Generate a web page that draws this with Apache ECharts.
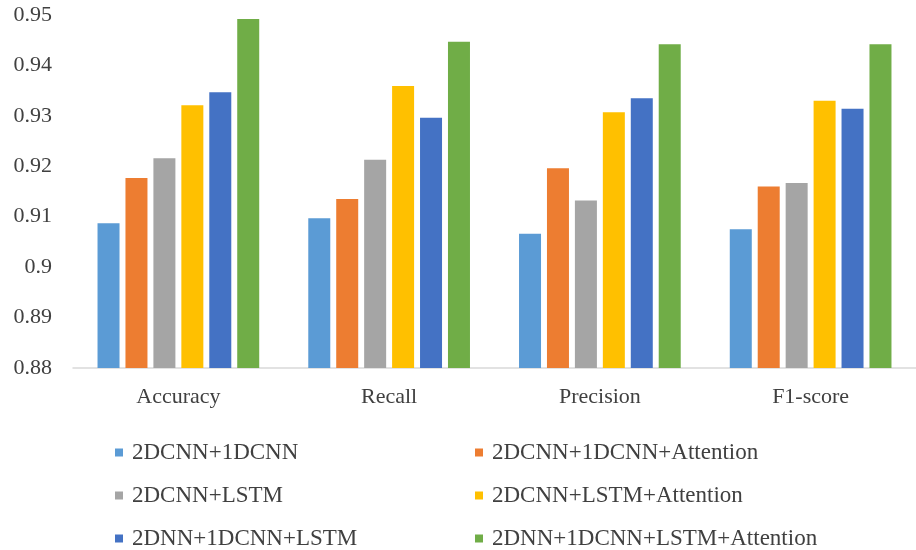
<!DOCTYPE html>
<html>
<head>
<meta charset="utf-8">
<script src="https://cdn.jsdelivr.net/npm/echarts@6/dist/echarts.min.js"></script>
<style>
  html, body { margin: 0; padding: 0; background: #fff; }
  #chart { width: 916px; height: 550px; }
</style>
</head>
<body>
<div id="chart"></div>
<script>
// Metric categories along the x axis
const categories = ['Accuracy', 'Recall', 'Precision', 'F1-score'];

// Model variants (one bar series each)
const seriesNames = [
  '2DCNN+1DCNN',
  '2DCNN+1DCNN+Attention',
  '2DCNN+LSTM',
  '2DCNN+LSTM+Attention',
  '2DNN+1DCNN+LSTM',
  '2DNN+1DCNN+LSTM+Attention'
];

// Scores per model, in category order
const cnn1d          = [0.9087, 0.9097, 0.9066, 0.9075];
const cnn1dAtt       = [0.9177, 0.9135, 0.9196, 0.9160];
const lstm           = [0.9216, 0.9213, 0.9132, 0.9167];
const lstmAtt        = [0.9321, 0.9359, 0.9307, 0.9330];
const cnnLstm        = [0.9347, 0.9296, 0.9335, 0.9314];
const cnnLstmAtt     = [0.9492, 0.9447, 0.9442, 0.9442];

const seriesValues = [cnn1d, cnn1dAtt, lstm, lstmAtt, cnnLstm, cnnLstmAtt];
const colors = ['#5B9BD5', '#ED7D31', '#A5A5A5', '#FFC000', '#4472C4', '#70AD47'];

// y-axis tick values
const yMin = 0.88, yMax = 0.95, yStep = 0.01;

const font = '"Liberation Serif", "Times New Roman", serif';
const textColor = '#404040';

const legendBase = {
  orient: 'vertical',
  icon: 'rect',
  itemWidth: 8,
  itemHeight: 8,
  itemGap: 20,
  textStyle: { fontFamily: font, fontSize: 23, lineHeight: 23, color: textColor, padding: [0, 0, 0, 4] },
  padding: 0,
  selectedMode: false
};

const chart = echarts.init(document.getElementById('chart'), null, { renderer: 'canvas' });
chart.setOption({
  animation: false,
  backgroundColor: '#ffffff',
  color: colors,
  grid: { left: 73, top: 15, width: 844, height: 353, containLabel: false },
  legend: [
    Object.assign({}, legendBase, { left: 115, top: 441, data: [seriesNames[0], seriesNames[2], seriesNames[4]] }),
    Object.assign({}, legendBase, { left: 475, top: 441, data: [seriesNames[1], seriesNames[3], seriesNames[5]] })
  ],
  xAxis: {
    type: 'category',
    data: categories,
    axisLine: { lineStyle: { color: '#D9D9D9', width: 1.5 } },
    axisTick: { show: false },
    axisLabel: { fontFamily: font, fontSize: 22, color: textColor, margin: 18 }
  },
  yAxis: {
    type: 'value',
    min: yMin,
    max: yMax,
    interval: yStep,
    axisLine: { show: false },
    axisTick: { show: false },
    splitLine: { show: false },
    axisLabel: {
      fontFamily: font, fontSize: 22, color: textColor, margin: 21,
      formatter: v => String(parseFloat(v.toFixed(2)))
    }
  },
  series: seriesNames.map((name, i) => ({
    name: name,
    type: 'bar',
    data: seriesValues[i],
    barWidth: 22,
    barGap: '27%',
    barCategoryGap: '23%',
    itemStyle: { color: colors[i] }
  }))
});
</script>
</body>
</html>
